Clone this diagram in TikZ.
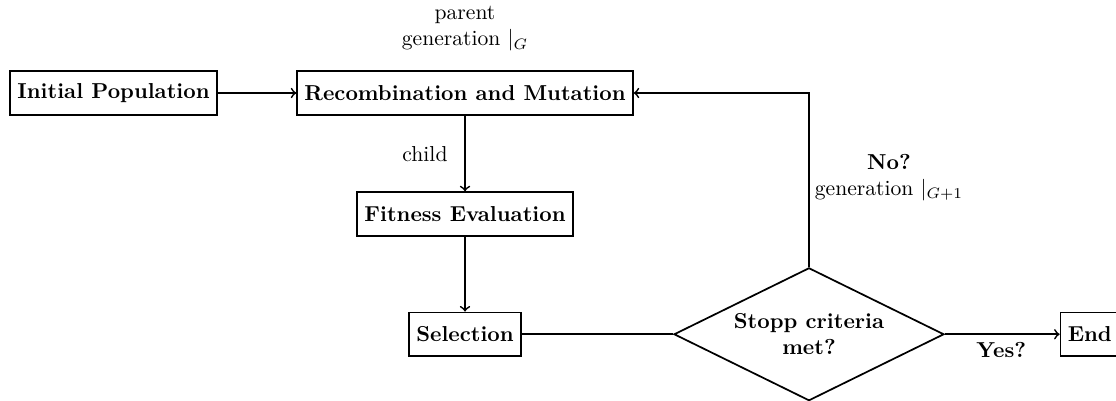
\documentclass[tikz,border=0pt]{standalone}
\usetikzlibrary{shapes.geometric}
\begin{document}
\begin{tikzpicture}[x=1cm,y=1cm,thick,
  block/.style={draw, minimum height=0.71cm, font=\bfseries},
  decision/.style={draw, diamond, aspect=2, minimum width=4.39cm, minimum height=2.16cm, inner sep=1pt, align=center, font=\bfseries}]
\useasboundingbox (0,0) rectangle (18.146,-6.520);
\node[block] (init) at (1.846,-1.512) {Initial Population};
\node[block] (recomb) at (7.561,-1.512) {Recombination and Mutation};
\node[block] (fitness) at (7.561,-3.480) {Fitness Evaluation};
\node[block] (select) at (7.561,-5.435) {Selection};
\node[decision] (stop) at (13.154,-5.435) {Stopp criteria\\met?};
\node[block, anchor=west] (end) at (17.23,-5.435) {End};

\node[align=center] (parentlbl) at (7.561,-0.47) {parent\\generation $|_G$};
\node (childlbl) at (6.91,-2.50) {child};
\node[align=center] (nolbl) at (14.455,-2.89) {\textbf{No?}\\generation $|_{G+1}$};
\node[font=\bfseries] (yeslbl) at (16.28,-5.69) {Yes?};

\draw[->] (init) -- (recomb);
\draw[->] (recomb) -- (fitness);
\draw[->] (fitness) -- (select);
\draw (select) -- (stop);
\draw[->] (stop) -- (end);
\draw[->] (stop.north) |- (recomb.east);
\end{tikzpicture}
\end{document}
